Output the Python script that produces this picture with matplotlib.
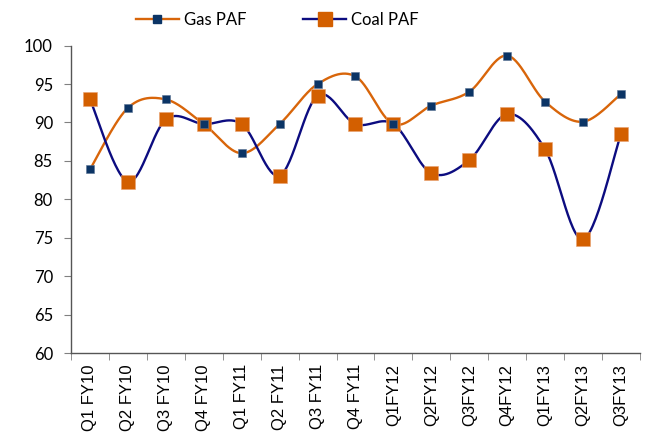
import numpy as np
import matplotlib
matplotlib.use("Agg")
import matplotlib.pyplot as plt
from matplotlib.ticker import FixedLocator, NullFormatter

categories = ["Q1 FY10", "Q2 FY10", "Q3 FY10", "Q4 FY10", "Q1 FY11", "Q2 FY11",
              "Q3 FY11", "Q4 FY11", "Q1FY12", "Q2FY12", "Q3FY12", "Q4FY12",
              "Q1FY13", "Q2FY13", "Q3FY13"]
gas_paf = [83.9, 91.9, 93.0, 89.8, 86.0, 89.8, 95.0, 96.0, 89.8, 92.2, 94.0, 98.7, 92.7, 90.1, 93.7]
coal_paf = [93.0, 82.3, 90.4, 89.8, 89.8, 83.1, 93.5, 89.8, 89.8, 83.4, 85.1, 91.1, 86.5, 74.8, 88.5]
y_ticks = [60, 65, 70, 75, 80, 85, 90, 95, 100]

GAS_LINE = "#D8650A"
GAS_MARK = "#0B3465"
COAL_LINE = "#0C0C80"
COAL_MARK = "#D35F00"


def smooth(x, y, n=30):
    x = np.asarray(x, float)
    y = np.asarray(y, float)
    px = np.concatenate([[x[0]], x, [x[-1]]])
    py = np.concatenate([[y[0]], y, [y[-1]]])
    xs, ys = [], []
    t = np.linspace(0, 1, n, endpoint=False)
    for i in range(1, len(px) - 2):
        p0, p1, p2, p3 = (np.array([px[j], py[j]]) for j in (i - 1, i, i + 1, i + 2))
        c1 = p1 + (p2 - p0) / 6.0
        c2 = p2 - (p3 - p1) / 6.0
        b = ((1 - t) ** 3)[:, None] * p1 + (3 * (1 - t) ** 2 * t)[:, None] * c1 \
            + (3 * (1 - t) * t ** 2)[:, None] * c2 + (t ** 3)[:, None] * p2
        xs.extend(b[:, 0]); ys.extend(b[:, 1])
    xs.append(x[-1]); ys.append(y[-1])
    return np.array(xs), np.array(ys)


fig = plt.figure(figsize=(6.48, 4.41), dpi=100)
ax = fig.add_axes([0.1096, 0.1995, 0.878, 0.697])

x = np.arange(len(categories))
gx, gy = smooth(x, gas_paf)
cx, cy = smooth(x, coal_paf)

ax.plot(gx, gy, color=GAS_LINE, lw=1.7, zorder=2)
ax.plot(cx, cy, color=COAL_LINE, lw=1.7, zorder=2)
ax.plot(x, gas_paf, ls="none", marker="s", ms=5.8, color=GAS_MARK,
        markeredgecolor="#5A7393", markeredgewidth=0.4, zorder=4)
ax.plot(x, coal_paf, ls="none", marker="s", ms=9.4, color=COAL_MARK,
        markeredgecolor="#E8A070", markeredgewidth=0.4, zorder=3)

# legend proxies
h1, = ax.plot([], [], color=GAS_LINE, lw=1.7, marker="s", ms=5.8,
              markerfacecolor=GAS_MARK, markeredgecolor=GAS_MARK)
h2, = ax.plot([], [], color=COAL_LINE, lw=1.7, marker="s", ms=9.4,
              markerfacecolor=COAL_MARK, markeredgecolor=COAL_MARK)
fig.legend([h1, h2], ["Gas PAF", "Coal PAF"], loc="center", bbox_to_anchor=(0.428, 0.955),
           ncol=2, frameon=False, prop={"family": "Lato", "size": 12},
           handlelength=2.6, columnspacing=3.4, handletextpad=0.3)

ax.set_xlim(-0.5, len(categories) - 0.5)
ax.set_ylim(60, 100)
ax.set_yticks(y_ticks)
ax.set_yticklabels([str(v) for v in y_ticks], fontfamily="Lato", fontsize=12)
ax.set_xticks(x)
ax.set_xticklabels(categories, rotation=90, fontfamily="Liberation Sans", fontsize=12)
ax.xaxis.set_minor_locator(FixedLocator(np.arange(-0.5, len(categories), 1.0)))
ax.xaxis.set_minor_formatter(NullFormatter())
ax.tick_params(axis="x", which="major", length=0, pad=8)
ax.tick_params(axis="x", which="minor", length=5, direction="out", color="#808080")
ax.tick_params(axis="y", length=5, direction="out", color="#808080", pad=8)

for s in ("top", "right"):
    ax.spines[s].set_visible(False)
for s in ("left", "bottom"):
    ax.spines[s].set_color("#555555")
    ax.spines[s].set_linewidth(1.0)

fig.savefig("out.png", dpi=100)
